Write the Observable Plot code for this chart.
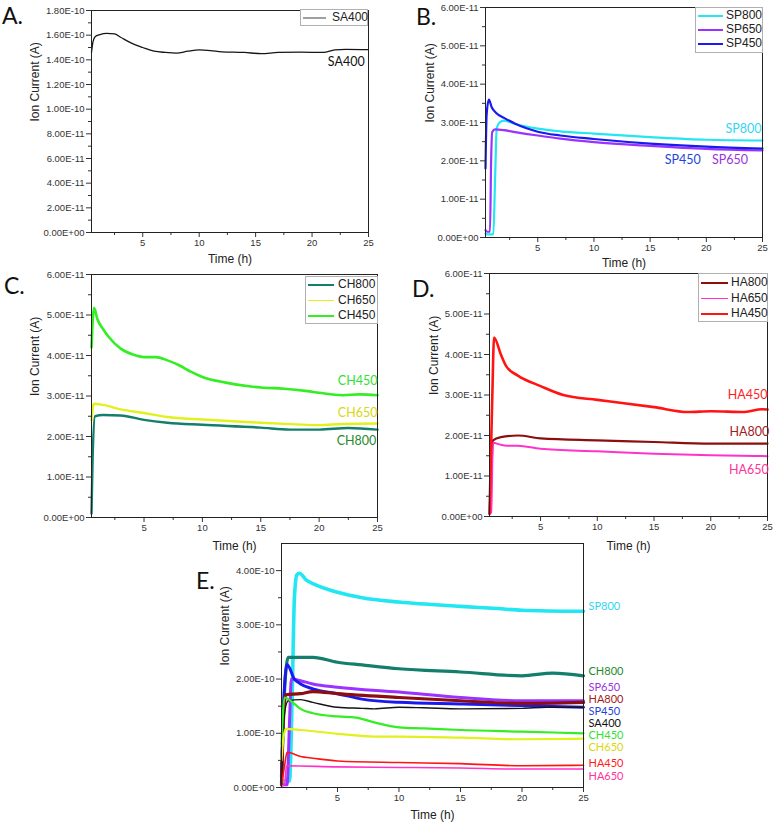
<!DOCTYPE html>
<html><head><meta charset="utf-8">
<script src="https://cdn.jsdelivr.net/npm/d3@7"></script>
<script src="https://cdn.jsdelivr.net/npm/@observablehq/plot@0.6"></script>
<style>
body{margin:0;background:#fff;}
#root{position:relative;width:774px;height:828px;overflow:hidden;background:#fff;font-family:"Liberation Sans",Arial,sans-serif;}
.letter{position:absolute;font-family:Lato,"Open Sans",sans-serif;font-size:23px;color:#111;line-height:1;}
.legend{position:absolute;box-sizing:border-box;border:1px solid #b0b0b0;background:#fff;font-family:"Liberation Sans",Arial,sans-serif;font-size:12px;color:#222;}
.legend .ln{position:absolute;height:1.5px;}
.legend .tx{position:absolute;line-height:14px;white-space:nowrap;}
</style>
</head><body>
<div id="root"></div>
<script>
// ---- data (values in units of 1e-11 A, time in h) ----
const U = 1e-11;
const xMajor = [5, 10, 15, 20, 25];
const xMinor = [2.5, 7.5, 12.5, 17.5, 22.5];

// Panel A
const sa400A = [[0.46,14.6],[0.6,15.5],[0.8,15.9],[1.2,16.05],[1.8,16.15],[2.5,16.1],[3,15.85],[4,15.35],[5,15.0],[6,14.7],[7,14.6],[8,14.55],[9,14.7],[10,14.8],[11,14.75],[12,14.65],[14,14.6],[15.5,14.5],[17,14.6],[19,14.62],[21,14.6],[22,14.8],[23,14.85],[25,14.82]];
// Panel B
const sp450B = [[0.35,1.8],[0.45,3.2],[0.65,3.6],[0.9,3.4],[1.3,3.25],[2,3.12],[3,2.97],[4,2.85],[5,2.76],[7,2.66],[10,2.57],[15,2.45],[20,2.37],[25,2.32]];
const sp650B = [[0.35,0.19],[0.5,0.15],[0.75,0.15],[0.85,2.0],[0.95,2.75],[1.2,2.82],[2,2.8],[3,2.75],[5,2.66],[7,2.58],[10,2.49],[15,2.39],[20,2.31],[25,2.27]];
const sp800B = [[0.35,0.1],[0.6,0.08],[1.05,0.08],[1.2,1.5],[1.35,2.85],[1.6,3.0],[2,3.05],[3,2.96],[5,2.84],[7,2.77],[10,2.71],[15,2.62],[20,2.55],[25,2.53]];
// Panel C
const ch450C = [[0.5,4.2],[0.72,5.18],[1,4.9],[1.5,4.65],[2,4.45],[3,4.17],[4,4.03],[5,3.96],[6,3.96],[7,3.88],[8,3.76],[9,3.6],[10,3.47],[12,3.33],[14,3.24],[15,3.21],[17,3.18],[19,3.12],[20,3.08],[22,3.02],[23.5,3.04],[25,3.02]];
const ch650C = [[0.5,2.4],[0.7,2.81],[1.5,2.78],[3,2.67],[5,2.58],[7,2.48],[10,2.42],[13,2.37],[15,2.34],[18,2.3],[20,2.28],[22,2.31],[25,2.32]];
const ch800C = [[0.5,0.1],[0.6,1.5],[0.8,2.5],[1.5,2.53],[3,2.52],[5,2.41],[7,2.34],[10,2.29],[15,2.22],[17.5,2.17],[20,2.17],[22.5,2.21],[25,2.17]];
// Panel D
const ha450D = [[0.5,0.07],[0.75,3.0],[0.9,4.42],[1.5,4.0],[2,3.7],[3,3.48],[5,3.22],[7,3.0],[10,2.88],[12,2.81],[15,2.7],[18,2.58],[20,2.6],[23,2.58],[24.5,2.65],[25,2.64]];
const ha800D = [[0.5,0.07],[0.65,1.0],[0.8,1.88],[1.5,1.96],[3,2.0],[5,1.93],[10,1.88],[15,1.84],[20,1.8],[25,1.8]];
const ha650D = [[0.5,0.07],[0.65,0.1],[0.8,1.82],[1.5,1.77],[2,1.75],[3,1.75],[5,1.67],[10,1.61],[15,1.55],[20,1.51],[25,1.49]];
// Panel E
const sp800E = [[0.45,1.2],[1.1,1.2],[1.3,15],[1.5,35],[1.7,39.2],[1.9,39.5],[2.5,38.2],[3,37.6],[5,36.0],[7,35.0],[10,34.2],[15,33.4],[18,33.0],[20,32.7],[25,32.5]];
const ch800E = [[0.45,2],[0.7,18],[1,24],[2,24],[3,24],[5,23.1],[7,22.6],[10,21.9],[15,21.3],[20,20.6],[22.5,21.1],[25,20.6]];
const sp450E = [[0.45,1],[0.6,14],[0.9,22.7],[1.5,20.0],[2,19.1],[3,18.2],[5,17.3],[7,16.3],[10,15.7],[15,15.4],[20,15.1],[25,14.8]];
const sp650E = [[0.45,0.5],[0.9,0.5],[1.1,12],[1.25,20],[2,19.7],[3,19.1],[5,18.5],[10,17.6],[15,16.6],[20,16.0],[25,16.0]];
const ha800E = [[0.45,0.5],[0.6,12],[0.8,17.1],[2,17.3],[3,17.7],[5,17.3],[10,16.6],[15,16.0],[20,15.5],[25,15.7]];
const sa400E = [[0.45,1],[0.6,12],[1,16.0],[2,16.2],[3,15.7],[5,14.8],[7,14.6],[8,14.5],[10,14.8],[12,14.7],[15,14.5],[20,14.6],[22,14.8],[25,14.8]];
const ch450E = [[0.45,8],[0.7,16.6],[1.5,15.4],[2,14.5],[3,13.7],[5,13.1],[6.5,12.9],[8,12.0],[10,11.1],[12,10.9],[15,10.6],[20,10.3],[25,10.0]];
const ch650E = [[0.45,5],[0.6,9],[0.8,10.8],[2,10.6],[5,9.9],[8,9.4],[10,9.4],[15,9.2],[20,8.9],[25,9.0]];
const ha450E = [[0.45,0.3],[0.7,4],[0.9,6.5],[2,5.7],[3,5.4],[5,4.9],[10,4.6],[15,4.4],[20,4.0],[25,4.1]];
const ha650E = [[0.45,0.3],[0.7,0.5],[0.85,4.0],[5,3.8],[10,3.7],[15,3.6],[20,3.4],[25,3.4]];

// Names and colours
const names = ["SA400","SP800","SP650","SP450","CH800","CH650","CH450","HA800","HA650","HA450"];
const lineColors = {SA400:"#151515",SP800:"#22e6f2",SP650:"#9a33ff",SP450:"#1a1aee",CH800:"#147e6c",CH650:"#e2f01e",CH450:"#33ee22",HA800:"#8b0f0f",HA650:"#ff33cc",HA450:"#ff1414"};
const labelColors = {SA400:"#111",SP800:"#33d6f2",SP650:"#9a33dd",SP450:"#1f44dd",CH800:"#1f8a2e",CH650:"#d8d80a",CH450:"#33e033",HA800:"#a01e1e",HA650:"#ff3399",HA450:"#ff1e1e"};

// End-label positions (data units)
const labelsA = [["SA400",21.4,13.8]];
const labelsB = [["SP800",21.7,2.84],["SP450",16.3,2.01],["SP650",20.5,2.01]];
const labelsC = [["CH450",21.6,3.38],["CH650",21.6,2.58],["CH800",21.5,1.88]];
const labelsD = [["HA450",21.5,2.99],["HA800",21.65,2.08],["HA650",21.6,1.16]];
const labelsE = [["SP800",25,33.4],["CH800",25,21.4],["SP650",25,18.4],["HA800",25,16.2],["SP450",25,14.0],["SA400",25,11.8],["CH450",25,9.6],["CH650",25,7.4],["HA450",25,4.4],["HA650",25,2.0]];

// ---- helpers ----
const fmtE = v => {
  if (Math.abs(v) < 1e-30) return "0.00E+00";
  let e = Math.floor(Math.log10(Math.abs(v)) + 1e-9);
  let m = v / Math.pow(10, e);
  if (Math.abs(m) >= 9.995) { m /= 10; e += 1; }
  return m.toFixed(2) + "E" + (e < 0 ? "-" : "+") + String(Math.abs(e)).padStart(2, "0");
};
const root = document.getElementById("root");

function makePanel(cfg) {
  const mL = 95, mT = 12, mR = cfg.mR || 14, mB = 44;
  const W = cfg.R - cfg.L + mL + mR, H = cfg.B - cfg.T + mT + mB;
  const marks = [];
  for (const s of cfg.series) {
    marks.push(Plot.line(s.data, {x: d => d[0], y: d => d[1] * U, stroke: lineColors[s.name], strokeWidth: s.w, curve: "monotone-x"}));
  }
  const ax = {tickSize: 5, tickPadding: 2, fontSize: 9.5, label: null, color: "#333"};
  marks.push(Plot.axisX(xMajor, {...ax}));
  marks.push(Plot.axisX(xMinor, {tickSize: 3, tickFormat: () => "", label: null, color: "#333"}));
  marks.push(Plot.axisY(cfg.yMajor.map(k => k * U), {...ax, tickFormat: fmtE}));
  marks.push(Plot.axisY(cfg.yMinor.map(k => k * U), {tickSize: 3, tickFormat: () => "", label: null, color: "#333"}));
  marks.push(Plot.frame({stroke: "#222", strokeWidth: 1}));
  marks.push(Plot.text(cfg.labels, {x: d => d[1], y: d => d[2] * U, text: d => d[0], fill: d => labelColors[d[0]], textAnchor: "start", dx: cfg.labelDx || 0, fontSize: cfg.labelSize || 12.5, fontFamily: "Lato, 'Open Sans', sans-serif"}));
  marks.push(Plot.text(["Ion Current (A)"], {frameAnchor: "left", dx: cfg.yTitleDx, rotate: -90, fontSize: 12, fill: "#222"}));
  marks.push(Plot.text(["Time (h)"], {frameAnchor: "bottom", dy: cfg.xTitleDy, fontSize: 12, fill: "#222"}));
  const svg = Plot.plot({
    width: W, height: H, marginLeft: mL, marginTop: mT, marginRight: mR, marginBottom: mB,
    x: {domain: cfg.xDomain}, y: {domain: cfg.yDomain},
    style: {background: "transparent", overflow: "visible", fontFamily: "'Liberation Sans', Arial, sans-serif", maxWidth: "none"},
    marks
  });
  svg.style.position = "absolute";
  svg.style.left = (cfg.L - mL) + "px";
  svg.style.top = (cfg.T - mT) + "px";
  root.appendChild(svg);
}

function makeLegend(cfg) {
  const box = document.createElement("div");
  box.className = "legend";
  Object.assign(box.style, {left: cfg.left + "px", top: cfg.top + "px", width: cfg.w + "px", height: cfg.h + "px"});
  cfg.items.forEach((name, i) => {
    const cy = cfg.y0 + i * cfg.step;
    const ln = document.createElement("div");
    ln.className = "ln";
    Object.assign(ln.style, {left: cfg.lx0 + "px", width: (cfg.lx1 - cfg.lx0) + "px", top: (cy - 1) + "px", background: cfg.lineColor || lineColors[name]});
    const tx = document.createElement("div");
    tx.className = "tx";
    tx.textContent = name;
    Object.assign(tx.style, {left: cfg.tx + "px", top: (cy - 8) + "px"});
    box.appendChild(ln); box.appendChild(tx);
  });
  root.appendChild(box);
}

function letter(t, x, y) {
  const d = document.createElement("div");
  d.className = "letter"; d.textContent = t;
  d.style.left = x + "px"; d.style.top = y + "px";
  root.appendChild(d);
}

const yMajor6 = [0,1,2,3,4,5,6], yMinor6 = [0.5,1.5,2.5,3.5,4.5,5.5];

makePanel({L: 91, R: 368, T: 10, B: 232, xDomain: [0.46, 25], yDomain: [0, 18*U],
  yMajor: [0,2,4,6,8,10,12,14,16,18], yMinor: [1,3,5,7,9,11,13,15,17],
  series: [{name: "SA400", data: sa400A, w: 1.3}], labels: labelsA, yTitleDx: -56, xTitleDy: 30});
makePanel({L: 485, R: 762, T: 7, B: 237, xDomain: [0.35, 25], yDomain: [0, 6*U],
  yMajor: yMajor6, yMinor: yMinor6,
  series: [{name: "SP800", data: sp800B, w: 2.2}, {name: "SP650", data: sp650B, w: 2.2}, {name: "SP450", data: sp450B, w: 2.2}],
  labels: labelsB, yTitleDx: -55, xTitleDy: 29});
makePanel({L: 91, R: 377, T: 274, B: 517, xDomain: [0.5, 25], yDomain: [0, 6*U],
  yMajor: yMajor6, yMinor: yMinor6,
  series: [{name: "CH800", data: ch800C, w: 2.4}, {name: "CH650", data: ch650C, w: 2.4}, {name: "CH450", data: ch450C, w: 2.6}],
  labels: labelsC, yTitleDx: -56, xTitleDy: 32});
makePanel({L: 489, R: 767, T: 273, B: 516, xDomain: [0.5, 25], yDomain: [0, 6*U],
  yMajor: yMajor6, yMinor: yMinor6,
  series: [{name: "HA800", data: ha800D, w: 2.2}, {name: "HA650", data: ha650D, w: 2.0}, {name: "HA450", data: ha450D, w: 2.6}],
  labels: labelsD, yTitleDx: -55, xTitleDy: 33});
makePanel({L: 281, R: 583, T: 543, B: 787, xDomain: [0.45, 25], yDomain: [0, 45*U], mR: 60,
  yMajor: [0,10,20,30,40], yMinor: [5,15,25,35],
  series: [
    {name: "SP800", data: sp800E, w: 3.6}, {name: "CH800", data: ch800E, w: 3.2}, {name: "SP650", data: sp650E, w: 3.0},
    {name: "SP450", data: sp450E, w: 3.0}, {name: "HA800", data: ha800E, w: 3.2}, {name: "SA400", data: sa400E, w: 1.4},
    {name: "CH450", data: ch450E, w: 2.2}, {name: "CH650", data: ch650E, w: 2.2}, {name: "HA450", data: ha450E, w: 1.6},
    {name: "HA650", data: ha650E, w: 1.6}],
  labels: labelsE, labelDx: 5, labelSize: 11, yTitleDx: -56, xTitleDy: 31});

makeLegend({left: 300, top: 9, w: 68, h: 17, items: ["SA400"], y0: 8, step: 14, lx0: 2, lx1: 25, tx: 31, lineColor: "#a0a0a0"});
makeLegend({left: 695, top: 7, w: 68, h: 46, items: ["SP800","SP650","SP450"], y0: 8, step: 14, lx0: 2, lx1: 27, tx: 30});
makeLegend({left: 305, top: 276, w: 73, h: 48, items: ["CH800","CH650","CH450"], y0: 8, step: 15.5, lx0: 2, lx1: 28, tx: 32});
makeLegend({left: 698, top: 273, w: 70, h: 49, items: ["HA800","HA650","HA450"], y0: 9, step: 15.5, lx0: 2, lx1: 29, tx: 32});

letter("A.", 2, 4);
letter("B.", 416, 5);
letter("C.", 4, 274);
letter("D.", 412, 277);
letter("E.", 196, 569);
</script>
</body></html>
